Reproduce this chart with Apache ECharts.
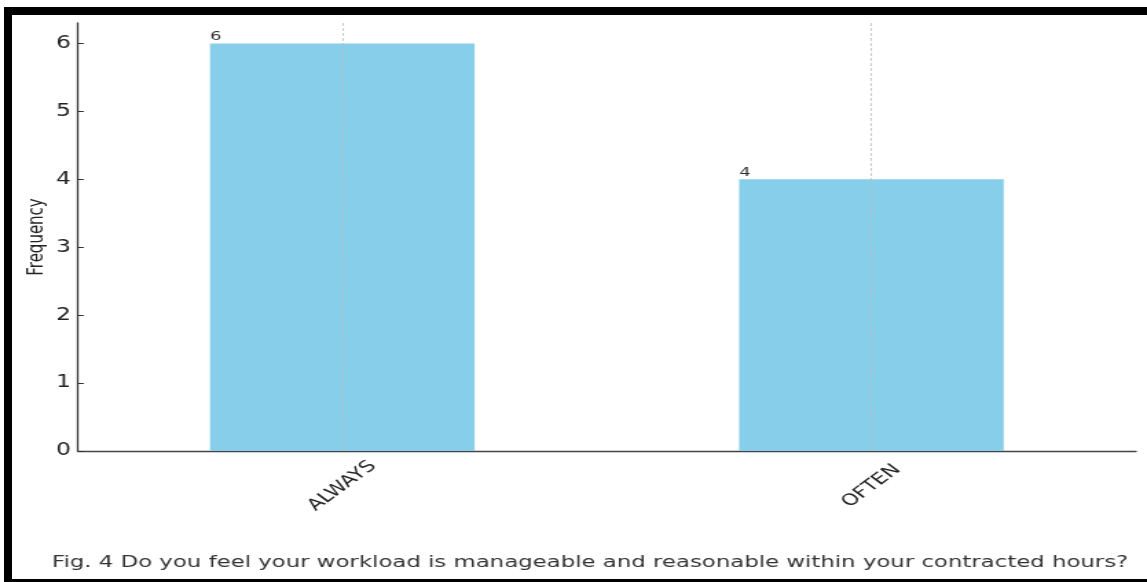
<!DOCTYPE html>
<html>
<head>
<meta charset="utf-8">
<script src="https://cdn.jsdelivr.net/npm/echarts@6/dist/echarts.min.js"></script>
<style>
  html, body { margin: 0; padding: 0; background: #ffffff; overflow: hidden; width: 1147px; height: 582px; }
  #chart { position: absolute; left: 0; top: 0; width: 834px; height: 582px; transform: scaleX(1.3753); transform-origin: 0 0; }
  .frame { position: absolute; background: #000; }
</style>
</head>
<body>
<div id="chart"></div>
<div class="frame" style="left:4px;top:7px;width:1143px;height:8px;"></div>
<div class="frame" style="left:4px;top:7px;width:8px;height:575px;"></div>
<div class="frame" style="left:4px;top:579px;width:1143px;height:3px;"></div>
<script>
const categories = ['ALWAYS', 'OFTEN'];
const frequencies = [6, 4];
const yTicks = [0, 1, 2, 3, 4, 5, 6];
const yLabel = 'Frequency';
const caption = 'Fig. 4 Do you feel your workload is manageable and reasonable within your contracted hours?';

const chart = echarts.init(document.getElementById('chart'), null, { renderer: 'canvas' });
const font = 'DejaVu Sans';
chart.setOption({
  animation: false,
  backgroundColor: 'transparent',
  grid: { left: 56.5, right: 8, top: 23, bottom: 131, containLabel: false },
  xAxis: {
    type: 'category',
    data: categories,
    boundaryGap: true,
    axisLine: { show: true, lineStyle: { color: '#444', width: 1.4 } },
    axisTick: { show: true, alignWithLabel: true, inside: true, length: 4, lineStyle: { color: '#333', width: 1 } },
    axisLabel: { rotate: 45, align: 'center', verticalAlign: 'middle', margin: 35, fontFamily: font, fontSize: 16, color: '#222' },
    splitLine: { show: false }
  },
  yAxis: {
    type: 'value',
    min: 0,
    max: 6.3,
    interval: 1,
    name: yLabel,
    nameLocation: 'middle',
    nameRotate: 90,
    nameGap: 22,
    nameMoveOverlap: false,
    nameTextStyle: { fontFamily: font, fontSize: 15, color: '#222' },
    axisLine: { show: true, lineStyle: { color: '#333', width: 1.3 } },
    axisTick: { show: true, inside: true, length: 4.4, customValues: yTicks, lineStyle: { color: '#333', width: 1 } },
    axisLabel: { margin: 5, fontFamily: font, fontSize: 17, color: '#222', customValues: yTicks },
    splitLine: { show: false }
  },
  series: [{
    type: 'bar',
    data: frequencies,
    barWidth: '50%',
    itemStyle: { color: '#87CEEB' },
    label: {
      show: true,
      position: [0, 0],
      align: 'left',
      verticalAlign: 'bottom',
      fontFamily: font,
      fontSize: 13,
      color: '#333'
    },
    markLine: {
      silent: true,
      symbol: 'none',
      label: { show: false },
      lineStyle: { color: '#bdbdbd', type: [3, 2], width: 0.8 },
      data: categories.map(c => ({ xAxis: c }))
    }
  }],
  graphic: [{
    type: 'text',
    left: 37.8,
    top: 554,
    style: { text: caption, fontFamily: font, fontSize: 16.6, fill: '#333' }
  }]
});
</script>
</body>
</html>
